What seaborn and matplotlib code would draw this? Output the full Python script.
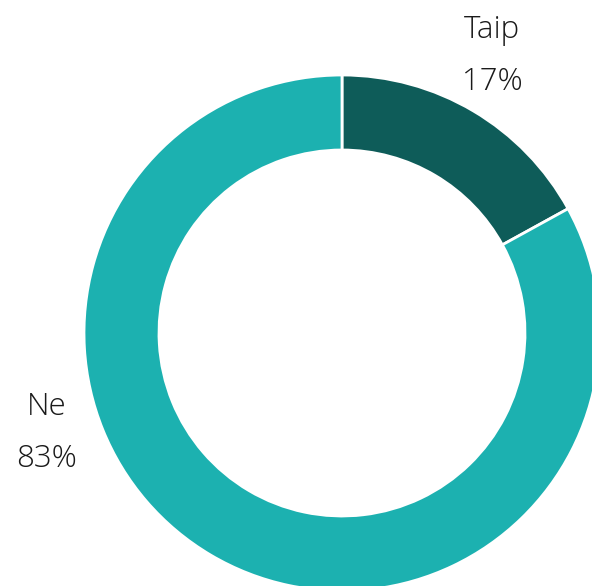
import matplotlib
matplotlib.use("Agg")
import matplotlib.pyplot as plt
import seaborn as sns

sns.set_theme(style="white")
plt.rcParams['font.family'] = ['Open Sans', 'DejaVu Sans']

categories = ["Taip", "Ne"]
values = [17, 83]
pct_labels = ["17%", "83%"]
colors = ["#0e5c59", "#1cb1b0"]

fig = plt.figure(figsize=(5.92, 5.86), dpi=100)
ax = fig.add_axes([0, 0, 1, 1])

ax.pie(values, colors=colors, startangle=90, counterclock=False,
       center=(342, 586 - 333), radius=258, frame=True,
       wedgeprops=dict(width=75, edgecolor='white', linewidth=2))
ax.set_xlim(0, 592)
ax.set_ylim(0, 586)
ax.set_aspect('equal')
ax.axis('off')

label_pos = [(492, 30, 82), (47, 407, 459)]
for cat, pct, (x, y1, y2) in zip(categories, pct_labels, label_pos):
    ax.text(x, 586 - y1, cat, ha='center', va='center', fontsize=22.5,
            fontweight='light', color='#1a1a1a')
    ax.text(x, 586 - y2, pct, ha='center', va='center', fontsize=22.5,
            fontweight='light', color='#1a1a1a')

fig.savefig("out.png", dpi=100)
